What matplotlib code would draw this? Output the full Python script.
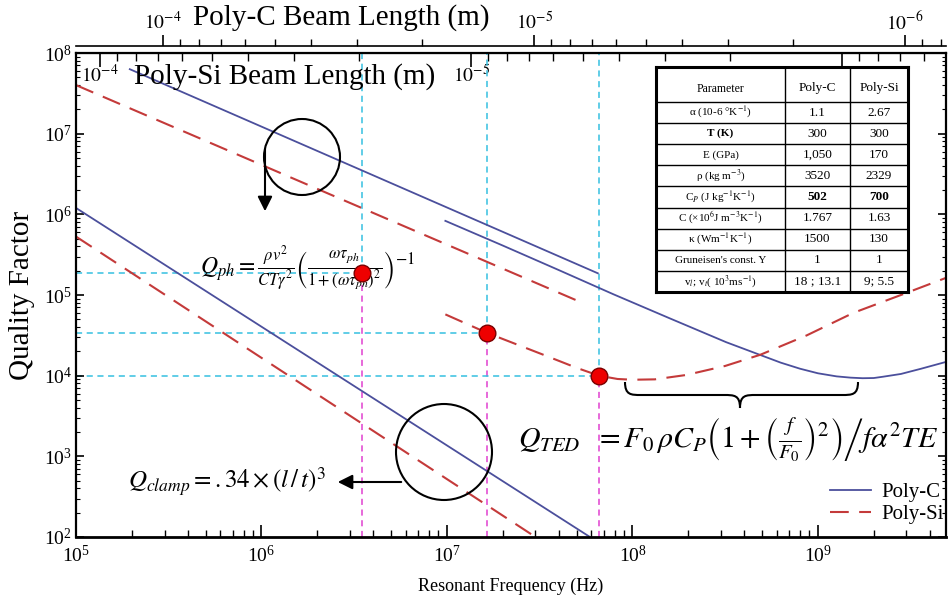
import numpy as np
import matplotlib.pyplot as plt
from matplotlib.patches import Ellipse, FancyArrowPatch, PathPatch
from matplotlib.path import Path
from matplotlib.ticker import NullFormatter, FuncFormatter

plt.rcParams['font.family'] = ['Liberation Serif', 'DejaVu Serif']
plt.rcParams['mathtext.fontset'] = 'stix'

W, H = 948, 597

# ---- values ----
# clamping loss (lower straight lines)
f_c_clamp = [1e5, 5.9e7]
q_c_clamp = [1.2e6, 1e2]
f_si_clamp = [1e5, 3.0e7]
q_si_clamp = [5.3e5, 1e2]

# phonon-phonon loss (upper straight lines)
f_c_ph = [1.95e5, 6.5e7]
q_c_ph = [6.3e7, 1.86e5]
f_si_ph = [1e5, 5.5e7]
q_si_ph = [4.0e7, 7.8e4]

# thermoelastic damping (curves with a minimum)
f_c_ted = [9.8e6, 2.0e7, 4.0e7, 7.9e7, 1.6e8, 3.2e8, 6.3e8, 8.0e8, 1.0e9, 1.26e9, 1.5e9,
           1.74e9, 2.0e9, 2.24e9, 2.8e9, 3.6e9, 5.0e9]
q_c_ted = [8.3e5, 4.1e5, 2.04e5, 1.02e5, 5.1e4, 2.6e4, 1.45e4, 1.22e4, 1.07e4, 9.8e3, 9.45e3,
           9.3e3, 9.35e3, 9.7e3, 1.05e4, 1.22e4, 1.5e4]
f_si_ted = [9.8e6, 1.64e7, 3.3e7, 5.0e7, 6.6e7, 8.3e7, 1.0e8, 1.32e8, 1.95e8, 3.16e8, 4.9e8,
            8.7e8, 1.55e9, 2.8e9, 5.0e9]
q_si_ted = [5.75e4, 3.4e4, 1.82e4, 1.25e4, 1.0e4, 9.1e3, 8.9e3, 9.0e3, 1.02e4, 1.32e4, 1.82e4,
            3.16e4, 6.0e4, 1.0e5, 1.66e5]

# marked points
f_pts = [3.5e6, 1.64e7, 6.6e7]
q_pts = [1.85e5, 3.4e4, 1.0e4]

# beam length scales: frequency where L = 100 um
f_ref_c = 2.95e5
f_ref_si = 1.35e5

table_head = ['Parameter', 'Poly-C', 'Poly-Si']
table_rows = [
    [r'α (10-6 °K$^{-1}$)', '1.1', '2.67'],
    ['T (K)', '300', '300'],
    ['E (GPa)', '1,050', '170'],
    [r'ρ (kg m$^{-3}$)', '3520', '2329'],
    [r'C$_P$ (J kg$^{-1}$K$^{-1}$)', '502', '700'],
    [r'C (×10$^{6}$J m$^{-3}$K$^{-1}$)', '1.767', '1.63'],
    [r'κ (Wm$^{-1}$K$^{-1}$)', '1500', '130'],
    ["Gruneisen's const. Y", '1', '1'],
    [r'v$_l$; v$_t$( 10$^{3}$ms$^{-1}$)', '18 ; 13.1', '9; 5.5'],
]

blue = '#4b4f9c'
red = '#c43a3a'
cyan = '#35c0e0'
mag = '#e040d0'


def px(x, y):
    return (x / W, 1 - y / H)


fig = plt.figure(figsize=(W / 100, H / 100), dpi=100)
ax = fig.add_axes([76 / W, 1 - 537 / H, (946 - 76) / W, (537 - 53) / H])
ax.set_xscale('log')
ax.set_yscale('log')
ax.set_xlim(1e5, 4.9e9)
ax.set_ylim(1e2, 1e8)

# guide lines to the marked points
for fx, qy in zip(f_pts, q_pts):
    ax.plot([1e5, fx], [qy, qy], color=cyan, lw=1.1, ls=(0, (4, 3)), zorder=1)
    ax.plot([fx, fx], [1e2, qy], color=mag, lw=1.1, ls=(0, (4, 3)), zorder=1)
    ax.plot([fx, fx], [qy, 1e8], color=cyan, lw=1.1, ls=(0, (4, 3)), zorder=1)

dash = (0, (9, 5))
ax.plot(f_c_clamp, q_c_clamp, color=blue, lw=1.3, label='Poly-C')
ax.plot(f_si_clamp, q_si_clamp, color=red, lw=1.5, ls=dash, label='Poly-Si')
ax.plot(f_c_ph, q_c_ph, color=blue, lw=1.3)
ax.plot(f_si_ph, q_si_ph, color=red, lw=1.5, ls=dash)
ax.plot(f_c_ted, q_c_ted, color=blue, lw=1.3)
ax.plot(f_si_ted, q_si_ted, color=red, lw=1.5, ls=dash)
ax.plot(f_pts, q_pts, 'o', ms=12, mfc='#ee0000', mec='#7a0000', mew=1, zorder=6)

ax.tick_params(which='both', direction='in', top=False, right=True, labelsize=14)
ax.tick_params(axis='x', which='major', length=9, width=1.2, pad=6)
ax.tick_params(axis='x', which='minor', length=5, width=1)
ax.tick_params(axis='y', which='major', length=6, width=1.2, pad=3)
ax.tick_params(axis='y', which='minor', length=3, width=0.8)
for s in ax.spines.values():
    s.set_linewidth(1.6)
ax.spines['bottom'].set_linewidth(2)

ax.set_xlabel('Resonant Frequency (Hz)', fontsize=13, labelpad=8)
ax.set_ylabel('Quality Factor', fontsize=21, labelpad=6)


def length_label(v, pos):
    # only the decades that stay visible in the reference
    if v < 5e-7 or v > 5e-4:
        return ''
    return r'$10^{%d}$' % round(np.log10(v))


def si_label(v, pos):
    # 10^-6 sits under the table
    if v < 5e-6:
        return ''
    return length_label(v, pos)


# beam length axes on top
sec_c = ax.secondary_xaxis(1 + 7 / 484, functions=(lambda f: 1e-4 * np.sqrt(f_ref_c / f),
                                                   lambda L: f_ref_c * (1e-4 / L) ** 2))
sec_c.tick_params(which='both', direction='out', labelsize=14, pad=1)
sec_c.tick_params(which='major', length=8, width=1.2)
sec_c.tick_params(which='minor', length=5, width=1)
sec_c.xaxis.set_major_formatter(FuncFormatter(length_label))
sec_c.xaxis.set_minor_formatter(NullFormatter())
sec_c.spines['top'].set_linewidth(1.2)

sec_si = ax.secondary_xaxis('top', functions=(lambda f: 1e-4 * np.sqrt(f_ref_si / f),
                                              lambda L: f_ref_si * (1e-4 / L) ** 2))
sec_si.tick_params(which='both', direction='in', labelsize=14, pad=-24)
sec_si.tick_params(which='major', length=10, width=1.2)
sec_si.tick_params(which='minor', length=6, width=1)
sec_si.xaxis.set_major_formatter(FuncFormatter(si_label))
sec_si.xaxis.set_minor_formatter(NullFormatter())

fig.text(*px(341, 18), 'Poly-C Beam Length (m)', fontsize=21, ha='center', va='center')
ax.text(*px(285, 77), 'Poly-Si Beam Length (m)', fontsize=21, ha='center', va='center',
        transform=fig.transFigure)

# equations
ax.text(*px(308, 268), r'$Q_{ph} = \frac{\rho v^2}{CT\gamma^2}\left(\frac{\omega\tau_{ph}}{1+(\omega\tau_{ph})^2}\right)^{-1}$',
        fontsize=17, ha='center', va='center', transform=fig.transFigure, zorder=4)
ax.text(*px(128, 482), r'$Q_{clamp} = .34\times(l\,/\,t)^3$', fontsize=18, ha='left', va='center',
        transform=fig.transFigure, zorder=4)
ax.text(*px(518, 440),
        r'$Q_{TED}\ \ = F_0\,\rho C_P\left.\left(1+\left(\frac{f}{F_0}\right)^2\right)\right/ f\alpha^2TE$',
        fontsize=21.5, ha='left', va='center', transform=fig.transFigure, zorder=4)

# circles and arrows
for (cx, cy, r) in [(302, 157, 38), (444, 452, 48)]:
    fig.add_artist(Ellipse(px(cx, cy), 2 * r / W, 2 * r / H, transform=fig.transFigure,
                           fill=False, ec='black', lw=1.5))
fig.add_artist(FancyArrowPatch(px(265, 146), px(265, 214), transform=fig.transFigure,
                               arrowstyle='-|>', mutation_scale=22, color='black', lw=1.5))
fig.add_artist(FancyArrowPatch(px(404, 482), px(335, 482), transform=fig.transFigure,
                               arrowstyle='-|>', mutation_scale=22, color='black', lw=1.5))

# curly brace under the TED minima
bx0, bx1, bxm, by0, by1, bym = 625, 858, 740, 382, 395, 408
verts = [(bx0, by0), (bx0, by1), (bx0 + 6, by1), (bx0 + 16, by1),
         (bxm - 16, by1), (bxm - 6, by1), (bxm, by1), (bxm, bym),
         (bxm, by1), (bxm + 6, by1), (bxm + 16, by1),
         (bx1 - 16, by1), (bx1 - 6, by1), (bx1, by1), (bx1, by0)]
codes = [Path.MOVETO, Path.CURVE4, Path.CURVE4, Path.CURVE4,
         Path.LINETO, Path.CURVE4, Path.CURVE4, Path.CURVE4,
         Path.CURVE4, Path.CURVE4, Path.CURVE4,
         Path.LINETO, Path.CURVE4, Path.CURVE4, Path.CURVE4]
fig.add_artist(PathPatch(Path([px(x, y) for x, y in verts], codes), transform=fig.transFigure,
                         fill=False, ec='black', lw=1.5))

ax.legend(loc='lower right', bbox_to_anchor=px(944, 524), bbox_transform=fig.transFigure,
          frameon=False, fontsize=15, handlelength=2.0, handletextpad=0.5,
          labelspacing=0.1, borderpad=0, borderaxespad=0)

# parameter table
tx0, tx1, tx2, tx3 = 656, 785, 850, 908
ty0, tyh, ty1 = 67, 102, 292
tab = fig.add_axes([tx0 / W, 1 - ty1 / H, (tx3 - tx0) / W, (ty1 - ty0) / H])
tab.set_zorder(5)
tab.set_xlim(tx0, tx3)
tab.set_ylim(ty1, ty0)
tab.set_xticks([])
tab.set_yticks([])
for s in tab.spines.values():
    s.set_linewidth(2.2)
tab.axvline(tx1, color='black', lw=1)
tab.axvline(tx2, color='black', lw=1)
row_h = (ty1 - tyh) / len(table_rows)
tab.axhline(tyh, color='black', lw=1)
for i in range(1, len(table_rows)):
    tab.axhline(tyh + i * row_h, color='black', lw=1)
cx = [(tx0 + tx1) / 2, (tx1 + tx2) / 2, (tx2 + tx3) / 2]
for j, t in enumerate(table_head):
    tab.text(cx[j], (ty0 + tyh) / 2 + 4, t, ha='center', va='center', fontsize=8.5 if j == 0 else 9.5)
for i, row in enumerate(table_rows):
    yc = tyh + (i + 0.5) * row_h
    for j, t in enumerate(row):
        bold = (i == 4 and j > 0) or (i == 1 and j == 0)
        tab.text(cx[j], yc, t, ha='center', va='center', fontsize=8 if j == 0 else 9.5,
                 fontweight='bold' if bold else 'normal')

fig.savefig('out.png', dpi=100)
